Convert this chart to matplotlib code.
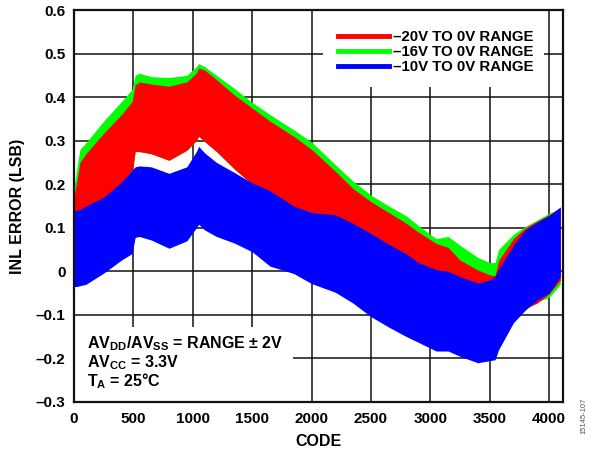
import matplotlib
matplotlib.use("Agg")
import matplotlib.pyplot as plt
from matplotlib.patches import Rectangle
from matplotlib.lines import Line2D

plt.rcParams['font.family'] = ['Liberation Sans', 'DejaVu Sans']
plt.rcParams['font.weight'] = 'bold'
plt.rcParams['mathtext.fontset'] = 'custom'
plt.rcParams['mathtext.rm'] = 'Liberation Sans:bold'
plt.rcParams['mathtext.bf'] = 'Liberation Sans:bold'
plt.rcParams['mathtext.default'] = 'bf'

# INL envelope (max / min of the error band) versus code for each range
codes = [0, 20, 50, 100, 250, 400, 490, 515, 550, 650, 800, 950, 1030, 1050,
         1100, 1200, 1350, 1500, 1650, 1850, 2000, 2200, 2350, 2500, 2650,
         2800, 2900, 3050, 3150, 3250, 3400, 3500, 3545, 3575, 3700, 3800,
         3900, 4000, 4095]

r16_hi = [0.19, 0.23, 0.28, 0.295, 0.345, 0.39, 0.418, 0.45, 0.455, 0.447,
          0.445, 0.45, 0.47, 0.477, 0.47, 0.45, 0.42, 0.388, 0.36, 0.325,
          0.297, 0.245, 0.207, 0.175, 0.15, 0.127, 0.105, 0.075, 0.08, 0.06,
          0.032, 0.02, 0.02, 0.05, 0.085, 0.103, 0.118, 0.133, 0.145]
r16_lo = [0.13, 0.13, 0.14, 0.145, 0.16, 0.205, 0.225, 0.275, 0.275, 0.27,
          0.255, 0.278, 0.3, 0.31, 0.298, 0.275, 0.235, 0.2, 0.18, 0.145,
          0.13, 0.1, 0.078, 0.06, 0.045, 0.03, 0.013, -0.006, -0.014, -0.022,
          -0.037, -0.035, -0.032, -0.17, -0.11, -0.085, -0.07, -0.06, -0.03]

r20_hi = [0.17, 0.2, 0.25, 0.27, 0.317, 0.36, 0.39, 0.428, 0.435, 0.43,
          0.425, 0.435, 0.455, 0.467, 0.462, 0.44, 0.405, 0.375, 0.345, 0.31,
          0.28, 0.23, 0.19, 0.16, 0.135, 0.11, 0.09, 0.064, 0.055, 0.026,
          0.003, -0.008, -0.01, 0.025, 0.075, 0.1, 0.115, 0.13, 0.145]
r20_lo = [0.13, 0.13, 0.14, 0.145, 0.16, 0.205, 0.225, 0.275, 0.275, 0.27,
          0.255, 0.278, 0.3, 0.31, 0.298, 0.275, 0.235, 0.2, 0.18, 0.145,
          0.13, 0.1, 0.078, 0.06, 0.045, 0.03, 0.013, -0.006, -0.014, -0.022,
          -0.037, -0.035, -0.032, -0.17, -0.11, -0.085, -0.073, -0.052, -0.02]

r10_hi = [0.14, 0.14, 0.142, 0.15, 0.17, 0.205, 0.232, 0.24, 0.242, 0.24,
          0.225, 0.24, 0.275, 0.287, 0.272, 0.25, 0.227, 0.203, 0.185, 0.15,
          0.135, 0.13, 0.11, 0.087, 0.062, 0.04, 0.02, 0.004, 0.0, -0.012,
          -0.027, -0.02, -0.012, 0.005, 0.06, 0.095, 0.113, 0.128, 0.148]
r10_lo = [-0.035, -0.035, -0.033, -0.03, -0.004, 0.026, 0.041, 0.078, 0.08,
          0.072, 0.053, 0.07, 0.1, 0.108, 0.095, 0.08, 0.065, 0.045, 0.012,
          -0.005, -0.028, -0.048, -0.073, -0.104, -0.128, -0.15, -0.163,
          -0.183, -0.183, -0.195, -0.21, -0.205, -0.203, -0.18, -0.118,
          -0.089, -0.066, -0.05, -0.012]

series_labels = ["\u201320V TO 0V RANGE", "\u201316V TO 0V RANGE",
                 "\u201310V TO 0V RANGE"]
series_colors = ["#ff0000", "#00ff00", "#0000ff"]

x_ticks = [0, 500, 1000, 1500, 2000, 2500, 3000, 3500, 4000]
y_ticks = [-0.3, -0.2, -0.1, 0, 0.1, 0.2, 0.3, 0.4, 0.5, 0.6]
y_tick_labels = ["\u20130.3", "\u20130.2", "\u20130.1", "0", "0.1", "0.2",
                 "0.3", "0.4", "0.5", "0.6"]

fig = plt.figure(figsize=(5.9, 4.55), dpi=100)
ax = fig.add_axes([0.1254, 0.1165, 0.8283, 0.8615])

# bands: 16V underneath, then 20V, then 10V on top
ax.fill_between(codes, r16_lo, r16_hi, color=series_colors[1], lw=0, zorder=2)
ax.fill_between(codes, r20_lo, r20_hi, color=series_colors[0], lw=0, zorder=3)
ax.fill_between(codes, r10_lo, r10_hi, color=series_colors[2], lw=0, zorder=4)

ax.set_xlim(0, 4115)
ax.set_ylim(-0.3, 0.6)
ax.set_xticks(x_ticks)
ax.set_yticks(y_ticks)
ax.set_yticklabels(y_tick_labels)
ax.tick_params(axis='both', length=0, labelsize=11)
ax.tick_params(axis='x', pad=7)
ax.tick_params(axis='y', pad=6)
ax.grid(True, color='#111111', lw=1.1, zorder=1)
ax.set_axisbelow(True)
for s in ax.spines.values():
    s.set_linewidth(1.6)
    s.set_color('#111111')
    s.set_zorder(10)

ax.set_xlabel("CODE", fontsize=11.5, fontweight='bold', labelpad=6)
ax.set_ylabel("INL ERROR (LSB)", fontsize=11.5, fontweight='bold', labelpad=8)

# white panels behind legend and conditions block
ax.add_patch(Rectangle((0.5095, 0.8036), 0.4525, 0.1964, transform=ax.transAxes,
                       facecolor='white', edgecolor='none', zorder=6))
ax.add_patch(Rectangle((0.0, 0.0), 0.448, 0.191, transform=ax.transAxes,
                       facecolor='white', edgecolor='none', zorder=6))

handles = [Line2D([0], [0], color=c, lw=3.5) for c in series_colors]
leg = ax.legend(handles, series_labels, loc='upper right',
                bbox_to_anchor=(0.962, 0.975), frameon=False,
                fontsize=10.8, handlelength=3.4, handletextpad=0.3,
                labelspacing=0.05, borderpad=0.2)
leg.set_zorder(7)
for t in leg.get_texts():
    t.set_fontweight('bold')

cond = [r"AV$_{DD}$/AV$_{SS}$ = RANGE $\pm$ 2V",
        r"AV$_{CC}$ = 3.3V",
        r"T$_{A}$ = 25°C"]
for i, line in enumerate(cond):
    ax.text(0.026, 0.148 - i * 0.047, line, transform=ax.transAxes,
            fontsize=11.5, fontweight='bold', va='center', ha='left', zorder=8)

fig.text(0.99, 0.125, "15145-107", rotation=90, fontsize=5.5,
         color='#555555', ha='center', va='top', fontweight='normal')

fig.savefig("out.png", dpi=100)
